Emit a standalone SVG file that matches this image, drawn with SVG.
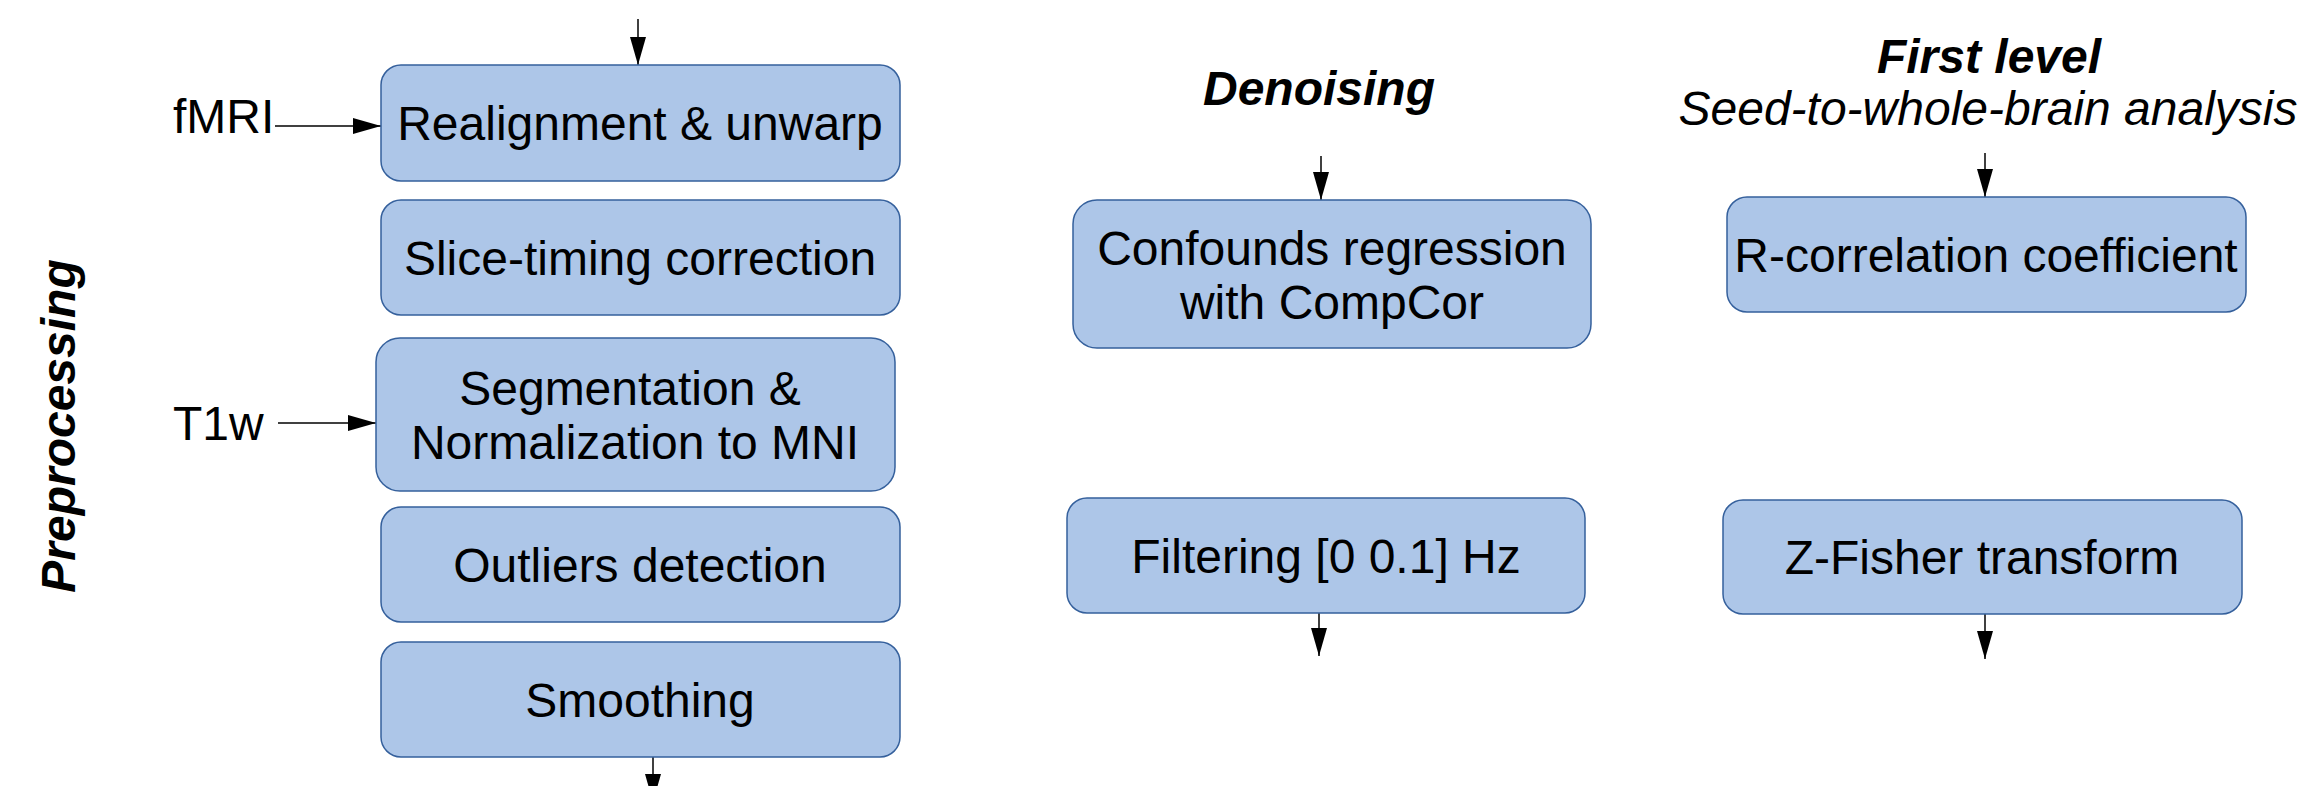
<svg xmlns="http://www.w3.org/2000/svg" width="2305" height="786" viewBox="0 0 2305 786">
<style>
.box{fill:#adc6e8;stroke:#35609c;stroke-width:1.5}
.t{font-family:"Liberation Sans",Arial,sans-serif;font-size:48px;fill:#000}
.c{text-anchor:middle}
.h{font-weight:bold;font-style:italic}
.i{font-style:italic}
.con{stroke:#000;stroke-width:1.5;fill:none;marker-end:url(#ah)}
</style>
<defs>
<marker id="ah" markerUnits="userSpaceOnUse" markerWidth="28" markerHeight="16" viewBox="0 0 28 16" refX="28" refY="8" orient="auto">
<path d="M0,0 L28,8 L0,16 z" fill="#000"/>
</marker>
</defs>
<rect width="2305" height="786" fill="#fff"/>
<g id="labels">
<text class="t h c" transform="translate(75,426) rotate(-90)">Preprocessing</text>
<text class="t h c" x="1319" y="105">Denoising</text>
<text class="t h c" x="1989" y="73">First level</text>
<text class="t i c" x="1988" y="125">Seed-to-whole-brain analysis</text>
<text class="t" x="173" y="133">fMRI</text>
<text class="t" x="173" y="440">T1w</text>
</g>
<g id="connectors">
<line class="con" x1="638" y1="19" x2="638" y2="65"/>
<line class="con" x1="275" y1="126" x2="381" y2="126"/>
<line class="con" x1="278" y1="423" x2="376" y2="423"/>
<line class="con" x1="653" y1="757" x2="653" y2="802"/>
<line class="con" x1="1321" y1="156" x2="1321" y2="200"/>
<line class="con" x1="1319" y1="613" x2="1319" y2="656"/>
<line class="con" x1="1985" y1="153" x2="1985" y2="197"/>
<line class="con" x1="1985" y1="614" x2="1985" y2="659"/>
</g>
<g id="n-realign"><rect class="box" x="381" y="65" width="519" height="116" rx="20"/><text class="t c" x="640" y="140">Realignment &amp; unwarp</text></g>
<g id="n-slice"><rect class="box" x="381" y="200" width="519" height="115" rx="20"/><text class="t c" x="640" y="275">Slice-timing correction</text></g>
<g id="n-seg"><rect class="box" x="376" y="338" width="519" height="153" rx="24"/><text class="t c" x="630" y="405">Segmentation &amp;</text><text class="t c" x="635" y="459">Normalization to MNI</text></g>
<g id="n-outliers"><rect class="box" x="381" y="507" width="519" height="115" rx="20"/><text class="t c" x="640" y="582">Outliers detection</text></g>
<g id="n-smooth"><rect class="box" x="381" y="642" width="519" height="115" rx="20"/><text class="t c" x="640" y="717">Smoothing</text></g>
<g id="n-confounds"><rect class="box" x="1073" y="200" width="518" height="148" rx="24"/><text class="t c" x="1332" y="265">Confounds regression</text><text class="t c" x="1332" y="319">with CompCor</text></g>
<g id="n-filter"><rect class="box" x="1067" y="498" width="518" height="115" rx="20"/><text class="t c" x="1326" y="573">Filtering [0 0.1] Hz</text></g>
<g id="n-rcorr"><rect class="box" x="1727" y="197" width="519" height="115" rx="20"/><text class="t c" x="1986" y="272">R-correlation coefficient</text></g>
<g id="n-zfisher"><rect class="box" x="1723" y="500" width="519" height="114" rx="20"/><text class="t c" x="1982" y="574">Z-Fisher transform</text></g>
</svg>
